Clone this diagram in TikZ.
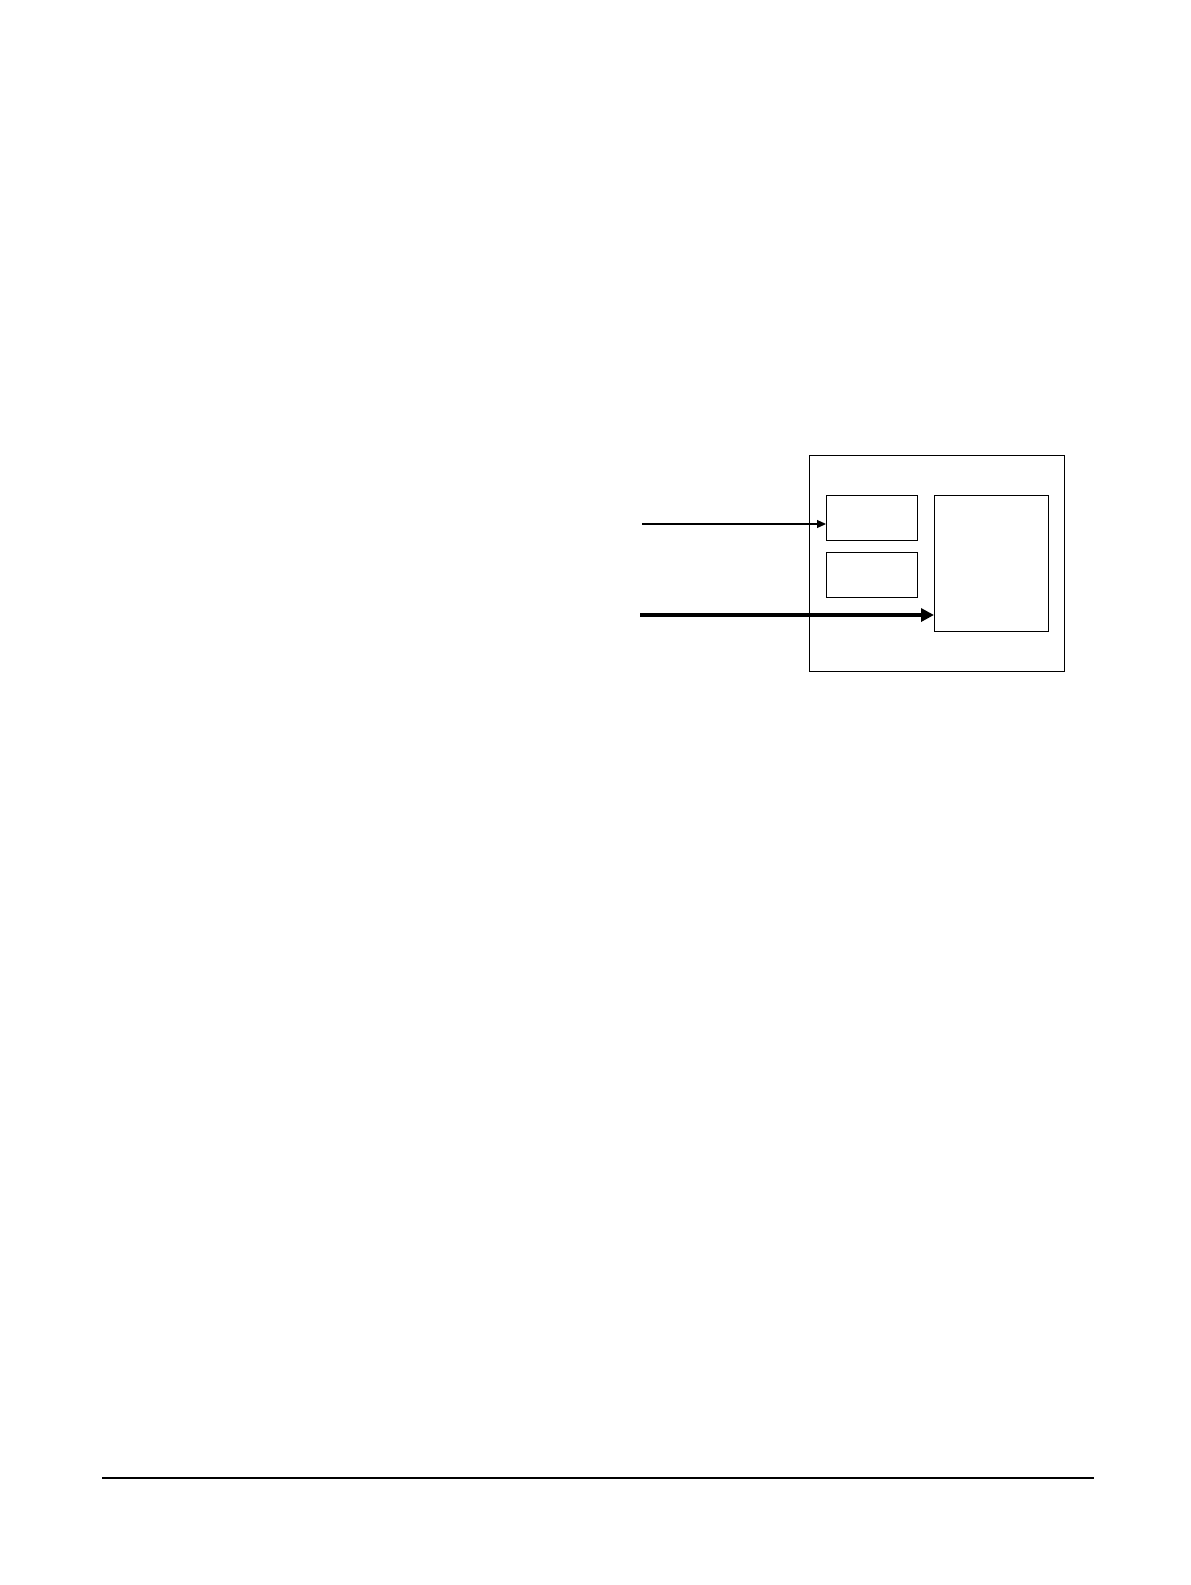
\documentclass[tikz,border=0pt]{standalone}
\usetikzlibrary{arrows.meta}
\begin{document}
\begin{tikzpicture}[x=1pt,y=-1pt,
  boxst/.style={draw=black,line width=1.2pt,fill=none},
  thinarr/.style={line width=1.2pt,-{Triangle[length=9pt,width=8pt]}},
  thickarr/.style={line width=3.6pt,-{Triangle[length=13pt,width=13pt]}}]
\useasboundingbox (0,0) rectangle (1191,1585);
\node[boxst,inner sep=0pt,minimum width=255pt,minimum height=216pt,anchor=north west] (outer) at (809,455) {};
\node[boxst,inner sep=0pt,minimum width=91pt,minimum height=45pt,anchor=north west] (b1) at (826,495) {};
\node[boxst,inner sep=0pt,minimum width=91pt,minimum height=45pt,anchor=north west] (b2) at (826,552) {};
\node[boxst,inner sep=0pt,minimum width=114pt,minimum height=136pt,anchor=north west] (big) at (934,495) {};
\coordinate (s1) at (642,524);
\coordinate (s2) at (640,615);
\draw[thinarr] (s1) -- (s1 -| b1.west);
\draw[thickarr] (s2) -- (s2 -| big.west);
\coordinate (fl) at (102,1478);
\coordinate (fr) at (1094,1478);
\draw[line width=1.5pt] (fl) -- (fr);
\end{tikzpicture}
\end{document}
